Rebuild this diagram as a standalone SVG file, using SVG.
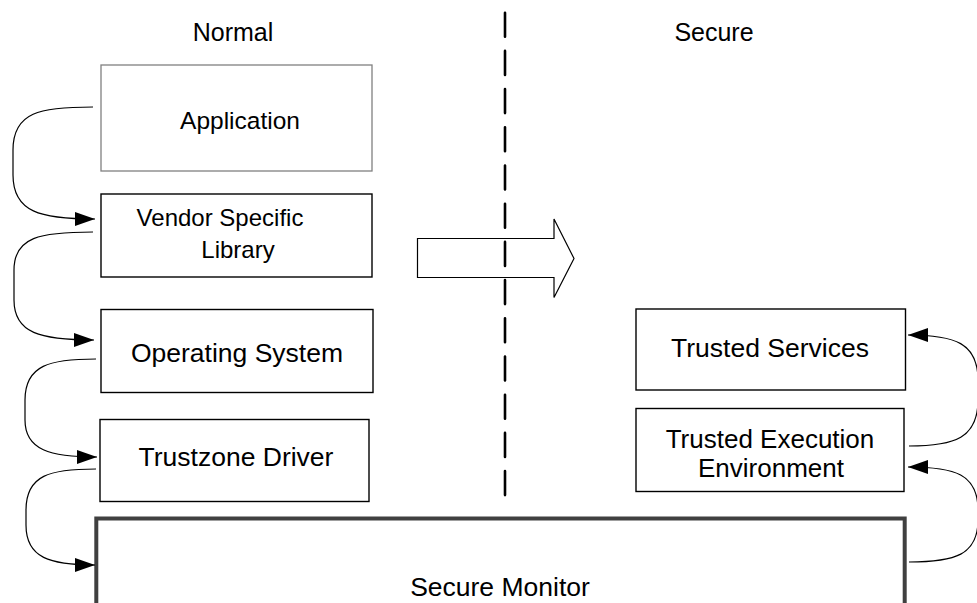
<svg xmlns="http://www.w3.org/2000/svg" width="977" height="603" viewBox="0 0 977 603">
<defs>
<marker id="ah" markerUnits="userSpaceOnUse" markerWidth="22" markerHeight="16" refX="20" refY="7" orient="auto">
<path d="M0,0 L20,7 L0,14 z" fill="#000"/>
</marker>
<style>
text{font-family:"Liberation Sans",Arial,sans-serif;font-size:26.5px;fill:#000;text-anchor:middle}
.hdr{font-size:25px}
.box{fill:#fff;stroke:#000;stroke-width:1.4}
.conn{fill:none;stroke:#000;stroke-width:1.2;marker-end:url(#ah)}
</style>
</defs>
<rect width="977" height="603" fill="#fff"/>
<g id="labels">
<text class="hdr" x="233" y="41">Normal</text>
<text class="hdr" x="714" y="41">Secure</text>
</g>
<g id="application">
<rect x="101" y="65" width="271" height="106" fill="#fff" stroke="#808080" stroke-width="1.3"/>
<text x="240" y="129" style="font-size:24.5px">Application</text>
</g>
<g id="vendor-lib">
<rect class="box" x="101" y="194" width="271" height="83"/>
<text x="220" y="226" style="font-size:24px">Vendor Specific</text>
<text x="238" y="258" style="font-size:24px">Library</text>
</g>
<g id="os">
<rect class="box" x="101" y="309.5" width="272" height="83"/>
<text x="237" y="362">Operating System</text>
</g>
<g id="tz-driver">
<rect class="box" x="100" y="419.5" width="269" height="82"/>
<text x="236" y="466">Trustzone Driver</text>
</g>
<g id="trusted-services">
<rect class="box" x="636" y="309" width="269.5" height="81"/>
<text x="770" y="357">Trusted Services</text>
</g>
<g id="tee">
<rect class="box" x="636" y="408.5" width="268" height="83"/>
<text x="770" y="448" style="font-size:26px">Trusted Execution</text>
<text x="771" y="477" style="font-size:26px">Environment</text>
</g>
<g id="secure-monitor">
<path d="M96.3,606 L96.3,518.5 L904.7,518.5 L904.7,606" fill="#fff" stroke="#404040" stroke-width="4"/>
<text x="500" y="596">Secure Monitor</text>
</g>
<g id="transition-arrow">
<polygon points="417.5,238.5 554,238.5 554,219 574,258.5 554,297.5 554,277.5 417.5,277.5" fill="#fff" stroke="#000" stroke-width="1.2"/>
</g>
<g id="divider">
<line x1="505" y1="12.7" x2="505" y2="496" stroke="#000" stroke-width="2.6" stroke-dasharray="24 14.2" stroke-linecap="round"/>
</g>
<g id="connectors">
<path class="conn" d="M93,107 C40,107 13,112 13,150 L13,175 C13,212 40,219 95,219"/>
<path class="conn" d="M93,232 C40,232 14,237 14,270 L14,300 C14,333 40,340 94,340"/>
<path class="conn" d="M96,359 C50,359 25,365 25,400 L25,420 C25,450 50,457 97,457"/>
<path class="conn" d="M96,469 C50,469 26,475 26,510 L26,525 C26,558 50,565 95,565"/>
<path class="conn" d="M909,446 C955,446 978,438 978,400 L978,380 C978,343 955,335 908,335"/>
<path class="conn" d="M909,562 C955,562 978,555 978,520 L978,510 C978,474 955,467 908,467"/>
</g>
</svg>
